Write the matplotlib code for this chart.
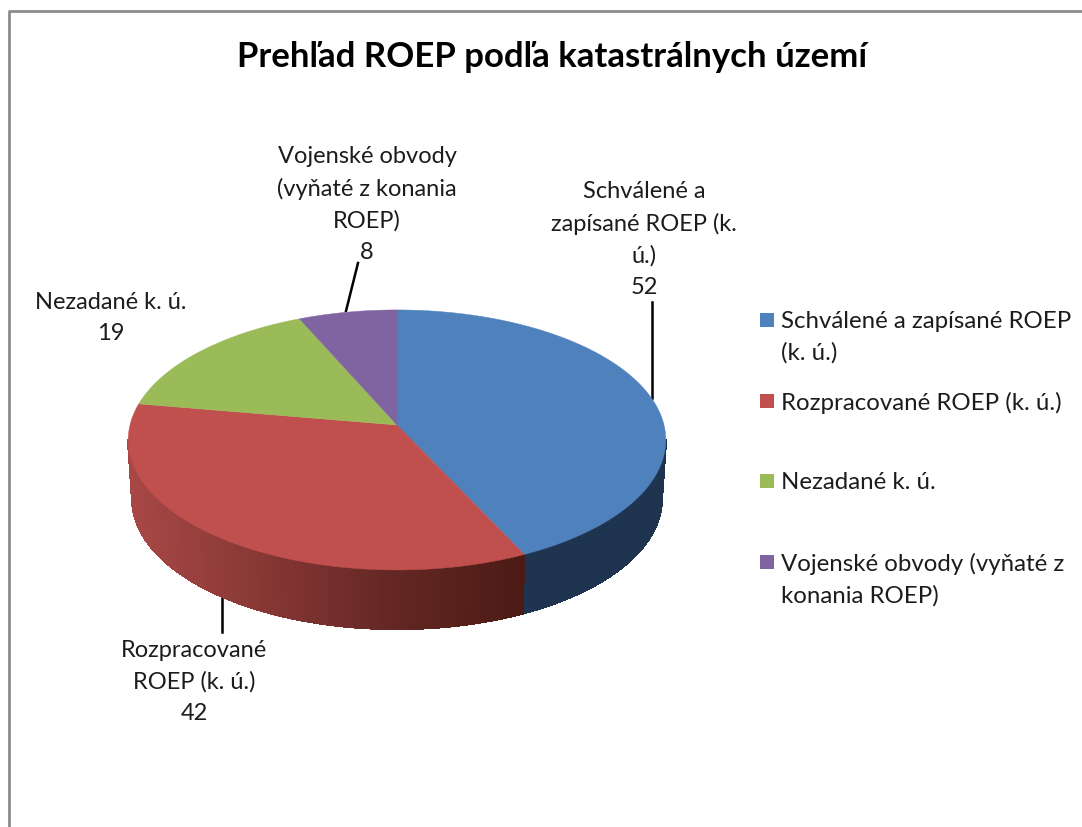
import numpy as np
import matplotlib
matplotlib.use("Agg")
import matplotlib.pyplot as plt
from matplotlib.colors import LinearSegmentedColormap

plt.rcParams["font.family"] = ["Lato", "DejaVu Sans"]

# data
categories = ["Schválené a zapísané ROEP (k. ú.)", "Rozpracované ROEP (k. ú.)",
              "Nezadané k. ú.", "Vojenské obvody (vyňaté z konania ROEP)"]
values = [52, 42, 19, 8]
colors = ["#4F81BD", "#C0504D", "#9BBB59", "#8064A2"]
legend_lines = ["Schválené a zapísané ROEP\n(k. ú.)", "Rozpracované ROEP (k. ú.)",
                "Nezadané k. ú.", "Vojenské obvody (vyňaté z\nkonania ROEP)"]
label_lines = ["Schválené a\nzapísané ROEP (k.\nú.)", "Rozpracované\nROEP (k. ú.)",
               "Nezadané k. ú.", "Vojenské obvody\n(vyňaté z konania\nROEP)"]

fig = plt.figure(figsize=(10.82, 8.27), dpi=100)
ax = fig.add_axes([0, 0, 1, 1])
ax.set_xlim(0, 1082)
ax.set_ylim(827, 0)
ax.axis("off")

# pixel-based coords, perspective disc so the apex sits above ellipse centre
CX, CY, RX, RY, K = 397, 425, 267, 128.3, 0.115
DEPTH = 59


def disc(t, r=1.0, scale=1.0, dy=0):
    u, v = r * np.cos(t), r * np.sin(t)
    d = 1 - K * v
    return CX + scale * RX * u / d, CY + dy + RY * v / d


edges = np.radians(np.cumsum([0] + values) / sum(values) * 360 - 90)

# ── SIDE ─────────────────────────────────────────────────
# starts and stops at the widest points of the rim
side_cmap = LinearSegmentedColormap.from_list(
    "side", ["#4C1B15", "#642724", "#873835", "#A84846"])
for i in range(2):
    ts = np.linspace(max(edges[i], K), min(edges[i + 1], np.pi - K), 160)
    for t0, t1 in zip(ts[:-1], ts[1:]):
        x0, y0 = disc(t0)
        x1, y1 = disc(t1)
        x2, y2 = disc(t1, scale=0.985, dy=DEPTH)
        x3, y3 = disc(t0, scale=0.985, dy=DEPTH)
        if i == 0:
            c = "#1F344E"
        else:
            c = side_cmap(np.clip((522 - (x0 + x1) / 2) / 395, 0, 1))
        ax.fill([x0, x1, x2, x3], [y0, y1, y2, y3], color=c, lw=1, antialiased=False, zorder=2)

# ── TOP ──────────────────────────────────────────────────
for i, val in enumerate(values):
    ts = np.linspace(edges[i], edges[i + 1], 200)
    xs, ys = disc(ts)
    ax.fill(np.r_[CX, xs], np.r_[CY, ys], color=colors[i], lw=0.3, zorder=3)

# ── LEADERS AND LABELS ───────────────────────────────────
ax.plot([652, 652], [302, 398], color="black", lw=1.8, zorder=1)
ax.plot([358, 346], [263, 311], color="black", lw=1.8, zorder=1)
ax.plot([222, 222], [597, 632], color="black", lw=1.8, zorder=1)

label_pos = [(644, 181), (194, 640), (111, 292), (367, 146)]
for (x, y), txt, val in zip(label_pos, label_lines, values):
    ax.text(x, y, f"{txt}\n{val}", ha="center", va="top", fontsize=17,
            color="#1c1c1c", linespacing=1.6)

# ── LEGEND ───────────────────────────────────────────────
legend_y = [320, 401, 481, 562]
for y, txt, c in zip(legend_y, legend_lines, colors):
    ax.add_patch(plt.Rectangle((760, y - 7), 14, 14, color=c, lw=0))
    ax.text(781, y - 9, txt, ha="left", va="top", fontsize=17.3,
            color="#1c1c1c", linespacing=1.56)

ax.text(552, 57, "Prehľad ROEP podľa katastrálnych území", ha="center", va="center",
        fontsize=25, fontweight="bold", color="black")

# frame, cut by the image edge on the right and at the bottom
ax.plot([8.5, 8.5, 1082], [827, 10.5, 10.5], color="#8C8C8C", lw=2, zorder=5)

fig.savefig("out.png", dpi=100, facecolor="white")
